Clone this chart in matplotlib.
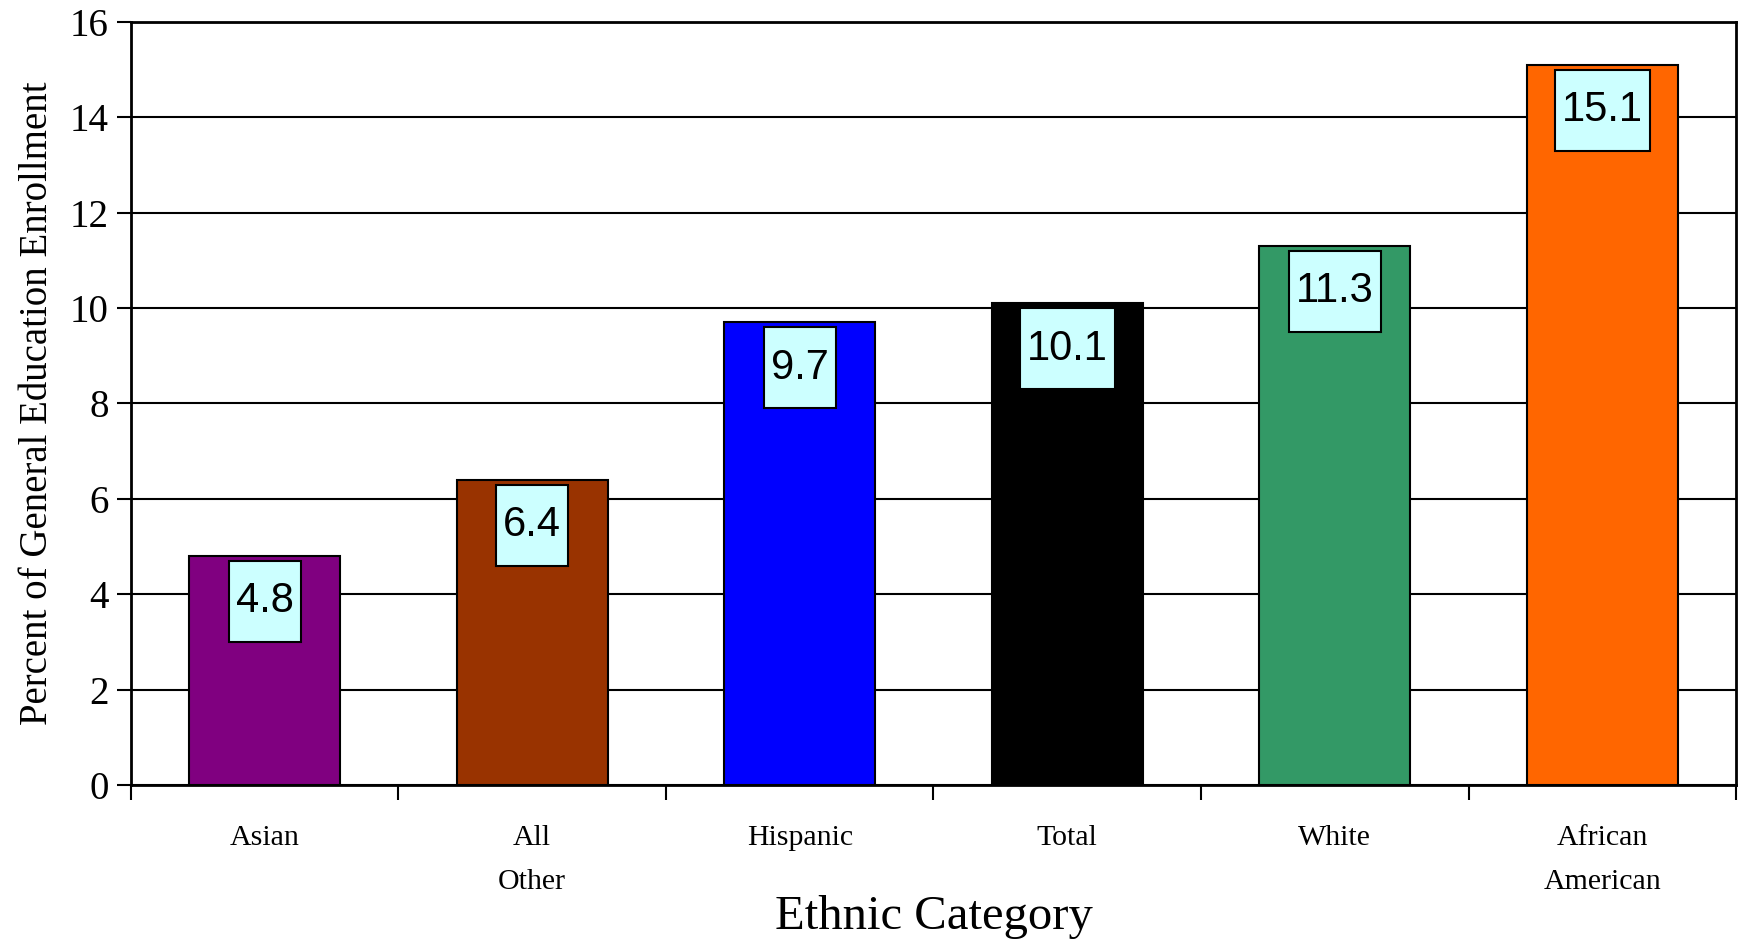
import matplotlib
matplotlib.use("Agg")
import matplotlib.pyplot as plt
from matplotlib.patches import Rectangle
from matplotlib.ticker import FixedLocator

categories = ["Asian", "All\nOther", "Hispanic", "Total", "White", "African\nAmerican"]
values = [4.8, 6.4, 9.7, 10.1, 11.3, 15.1]
colors = ["#800080", "#993300", "#0000FF", "#000000", "#339966", "#FF6600"]
yticks = [0, 2, 4, 6, 8, 10, 12, 14, 16]

plt.rcParams["font.family"] = ["Liberation Serif", "DejaVu Serif"]

fig = plt.figure(figsize=(17.39, 9.40), dpi=100)
ax = fig.add_axes([0.0753, 0.1649, 0.923, 0.8117])

x = list(range(len(categories)))
ax.bar(x, values, width=0.565, color=colors, edgecolor="black", linewidth=1.5, zorder=3)

ax.set_xlim(-0.5, len(categories) - 0.5)
ax.set_ylim(0, 16)
ax.set_yticks(yticks)
ax.yaxis.grid(True, color="black", linewidth=1.5, zorder=0)
ax.tick_params(axis="y", labelsize=28, length=10, width=1.5, pad=6)

ax.set_xticks(x)
ax.set_xticklabels(categories, fontsize=21.5, linespacing=1.9)
ax.tick_params(axis="x", which="major", length=0, pad=29)
ax.xaxis.set_minor_locator(FixedLocator([i - 0.5 for i in range(len(categories) + 1)]))
ax.tick_params(axis="x", which="minor", length=11, width=1.5)

for s in ax.spines.values():
    s.set_linewidth(2)
    s.set_color("black")

ax.set_xlabel("Ethnic Category", fontsize=35, labelpad=0)
ax.set_ylabel("Percent of General Education Enrollment", fontsize=28, labelpad=10)

# value labels in light cyan boxes near the top of each bar
texts = []
for i, v in enumerate(values):
    t = ax.text(i, v - 0.95, "%.1f" % v, ha="center", va="center", fontsize=30,
                family="Liberation Sans", zorder=6)
    texts.append(t)

fig.canvas.draw()
r = fig.canvas.get_renderer()
inv = ax.transData.inverted()
for i, (t, v) in enumerate(zip(texts, values)):
    bb = t.get_window_extent(r)
    x0, _ = inv.transform((bb.x0 - 7, 0))
    x1, _ = inv.transform((bb.x1 + 7, 0))
    ax.add_patch(Rectangle((x0, v - 0.1 - 1.7), x1 - x0, 1.7, facecolor="#CCFFFF",
                           edgecolor="black", linewidth=1.5, zorder=5))

fig.savefig("out.png", dpi=100)
